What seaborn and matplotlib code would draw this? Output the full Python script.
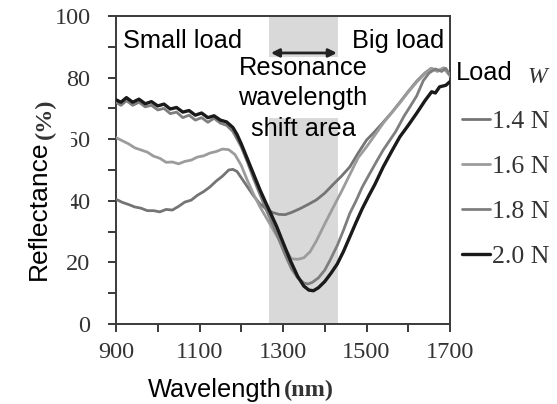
import matplotlib
matplotlib.use("Agg")
import matplotlib.pyplot as plt
import numpy as np
import pandas as pd
import seaborn as sns
from matplotlib.patches import Rectangle

# ---------------- data ----------------
loads = ["1.4 N", "1.6 N", "1.8 N", "2.0 N"]

wl_14 = [900, 915, 930, 945, 960, 975, 990, 1005, 1020, 1035, 1050, 1065, 1080, 1095,
         1110, 1125, 1140, 1155, 1170, 1180, 1190, 1200, 1215, 1230, 1245, 1260, 1275,
         1290, 1305, 1320, 1340, 1360, 1380, 1400, 1420, 1440, 1460, 1480, 1500, 1520,
         1540, 1560, 1580, 1600, 1620, 1640, 1655, 1670, 1685, 1700]
r_14 = [40.5, 39.5, 38.8, 38.0, 37.6, 36.8, 36.8, 36.4, 37.2, 37.0, 38.2, 39.6, 40.2, 41.8,
        43.0, 44.5, 46.4, 48.0, 50.0, 50.2, 49.5, 47.5, 44.5, 41.5, 39.0, 37.3, 36.2,
        35.6, 35.5, 36.2, 37.4, 38.8, 40.3, 42.5, 45.3, 48.0, 51.0, 55.5, 59.7, 62.5,
        65.5, 68.6, 72.0, 75.5, 78.8, 81.5, 83.0, 82.2, 83.0, 81.0]

wl_16 = [900, 915, 930, 945, 960, 975, 990, 1005, 1020, 1035, 1050, 1065, 1080, 1095,
         1110, 1125, 1140, 1155, 1170, 1185, 1200, 1215, 1230, 1245, 1260, 1275, 1290,
         1305, 1320, 1335, 1350, 1365, 1380, 1400, 1420, 1440, 1460, 1480, 1500, 1520,
         1540, 1560, 1580, 1600, 1620, 1640, 1655, 1670, 1685, 1700]
r_16 = [60.5, 59.5, 58.5, 57.2, 56.5, 55.8, 54.5, 53.8, 52.5, 52.6, 52.0, 52.8, 53.2, 54.2,
        54.6, 55.5, 56.0, 56.8, 56.6, 55.0, 51.5, 46.5, 42.0, 38.0, 34.5, 31.0, 27.5,
        24.5, 21.2, 21.0, 21.5, 23.5, 27.0, 32.5, 37.8, 43.0, 48.5, 54.0, 57.5, 61.3,
        65.2, 68.5, 71.8, 75.3, 78.5, 81.3, 83.0, 82.0, 83.2, 80.5]

wl_18 = [900, 912, 925, 940, 955, 970, 985, 1000, 1015, 1030, 1045, 1060, 1075, 1090,
         1105, 1120, 1135, 1150, 1165, 1180, 1190, 1200, 1215, 1230, 1245, 1260, 1275,
         1290, 1305, 1320, 1335, 1350, 1360, 1370, 1385, 1400, 1413, 1430, 1445, 1460,
         1475, 1490, 1508, 1525, 1540, 1556, 1570, 1590, 1604, 1620, 1636, 1650, 1665,
         1680, 1690, 1700]
r_18 = [72.0, 71.0, 72.5, 71.0, 72.0, 70.5, 71.0, 69.5, 70.0, 68.3, 68.8, 67.0, 67.8, 66.2,
        67.0, 65.5, 66.8, 65.2, 64.5, 62.5, 60.0, 57.5, 52.5, 47.0, 42.0, 37.0, 32.5,
        27.5, 22.5, 18.0, 15.0, 13.3, 13.0, 13.5, 15.0, 17.5, 20.8, 25.5, 30.5, 35.9,
        40.0, 44.5, 48.9, 53.0, 56.5, 59.7, 62.5, 67.5, 70.5, 74.0, 79.0, 81.5, 82.8,
        82.0, 83.0, 80.8]

wl_20 = [900, 912, 925, 940, 955, 970, 985, 1000, 1015, 1030, 1045, 1060, 1075, 1090,
         1105, 1120, 1135, 1150, 1165, 1180, 1190, 1200, 1215, 1230, 1245, 1260, 1285,
         1300, 1317, 1335, 1350, 1362, 1373, 1385, 1400, 1415, 1430, 1445, 1460, 1475,
         1490, 1505, 1520, 1540, 1560, 1580, 1600, 1620, 1640, 1656, 1665, 1675, 1690, 1700]
r_20 = [72.8, 72.0, 73.5, 72.0, 73.0, 71.5, 72.2, 70.8, 71.4, 69.8, 70.3, 68.8, 69.3, 67.8,
        68.5, 67.0, 67.6, 66.2, 65.6, 63.8, 61.5, 58.5, 53.5, 48.5, 43.5, 39.0, 31.6,
        26.5, 20.8, 15.5, 12.3, 11.0, 10.8, 11.8, 13.8, 16.5, 19.5, 23.6, 28.3, 33.0,
        37.5, 41.5, 45.3, 51.0, 56.0, 60.8, 64.5, 68.4, 72.5, 75.4, 75.0, 77.0, 77.5, 78.7]

shift_area = [1266, 1432]
x_ticks = [900, 1100, 1300, 1500, 1700]
x_minor = [1000, 1200, 1400, 1600]
y_ticks = [0, 20, 40, 60, 80, 100]
y_minor = [10, 30, 50, 70, 90]
note_lines = ["Resonance", "wavelength", "shift area"]

# ---------------- styling ----------------
palette = {"1.4 N": "#747474", "1.6 N": "#9c9c9c", "1.8 N": "#7e7e7e", "2.0 N": "#1a1a1a"}
widths = {"1.4 N": 2.0, "1.6 N": 2.0, "1.8 N": 2.0, "2.0 N": 2.4}

sns.set_style("ticks")
SERIF = ["Liberation Serif", "DejaVu Serif"]
SANS = ["Liberation Sans", "DejaVu Sans"]
plt.rcParams["font.family"] = SERIF

frames = []
for lab, xs, ys in zip(loads, [wl_14, wl_16, wl_18, wl_20], [r_14, r_16, r_18, r_20]):
    frames.append(pd.DataFrame({"Wavelength": xs, "Reflectance": ys, "Load": lab}))
df = pd.concat(frames, ignore_index=True)

W, H = 557, 404
fig = plt.figure(figsize=(W / 100, H / 100), dpi=100)
ax = fig.add_axes([116 / W, 1 - 324 / H, (450 - 116) / W, (324 - 16) / H])

def fy(py):
    """figure fraction from pixel row (top origin)"""
    return 1 - py / H

ax.axvspan(shift_area[0], shift_area[1], color="#d9d9d9", lw=0, zorder=0.5)

for lab in loads:
    sub = df[df["Load"] == lab]
    sns.lineplot(data=sub, x="Wavelength", y="Reflectance", color=palette[lab],
                 linewidth=widths[lab], label=lab, ax=ax, estimator=None, sort=False,
                 zorder=3)

handles, labels = ax.get_legend_handles_labels()
if ax.get_legend() is not None:
    ax.get_legend().remove()

ax.set_xlim(900, 1700)
ax.set_ylim(0, 100)
ax.set_xticks(x_ticks)
ax.set_xticks(x_minor, minor=True)
ax.set_yticks(y_ticks)
ax.set_yticks(y_minor, minor=True)
ax.set_xlabel("")
ax.set_ylabel("")

spine_c = "#3a3a3a"
for s in ax.spines.values():
    s.set_visible(True)
    s.set_color(spine_c)
    s.set_linewidth(1.4)
ax.tick_params(which="both", direction="out", length=5.8, width=1.4, color=spine_c,
               top=False, right=False)
ax.tick_params(axis="both", which="major", labelsize=17.5, labelcolor="#333333")
ax.tick_params(axis="x", which="major", pad=7)
ax.tick_params(axis="y", which="major", pad=12.5)
for t in ax.get_xticklabels() + ax.get_yticklabels():
    t.set_family(SERIF)

# white box behind the resonance text
ax.add_patch(Rectangle((1250, 66.9), 240, 19.8, facecolor="white", edgecolor="none",
                       zorder=1.5))
ax.annotate("", xy=(1271, 88), xytext=(1429, 88),
            arrowprops=dict(arrowstyle="<|-|>", lw=2.0, color="#222222",
                            mutation_scale=12, shrinkA=0, shrinkB=0), zorder=6)

fs = 18.3
ax.text(917, 89.6, "Small load", family=SANS, fontsize=fs, ha="left", va="baseline",
        color="black", zorder=6)
ax.text(1465, 89.6, "Big load", family=SANS, fontsize=fs, ha="left", va="baseline",
        color="black", zorder=6)
for line, yb in zip(note_lines, [80.8, 71.1, 61.0]):
    ax.text(1348, yb, line, family=SANS, fontsize=fs, ha="center", va="baseline",
            color="black", zorder=6)

# outside labels
fig.text(456 / W, fy(80), "Load", family=SANS, fontsize=fs, ha="left",
         va="baseline", color="black")
fig.text(537 / W, fy(83), "W", family=SERIF, style="italic", fontsize=17,
         ha="center", va="baseline", color="#333333")

fig.legend(handles, labels, loc="upper left", bbox_to_anchor=(462 / W, fy(110)),
           frameon=False, borderpad=0, borderaxespad=0, handlelength=1.1,
           handletextpad=0.08, labelspacing=0.86,
           prop={"family": SERIF, "size": 18.5}, labelcolor="#333333")

# axis titles
fig.patches.append(Rectangle((10 / W, fy(212)), 61 / W, 82 / H,
                             transform=fig.transFigure, facecolor="white",
                             edgecolor="none", zorder=4))
fig.text(51 / W, fy(210), "Reflectance", family=SANS, fontsize=19, rotation=90,
         ha="right", va="center", color="black", zorder=5)
fig.text(56 / W, fy(119), "(%)", family=SERIF, fontweight="bold", fontsize=17.5,
         rotation=90, ha="right", va="center", color="#333333", zorder=5)
fig.text(148 / W, fy(397), "Wavelength", family=SANS, fontsize=fs, ha="left",
         va="baseline", color="black", zorder=5)
fig.text(284 / W, fy(396), "(nm)", family=SERIF, fontweight="bold", fontsize=17.5,
         ha="left", va="baseline", color="#333333", zorder=5)

fig.savefig("out.png", dpi=100)
